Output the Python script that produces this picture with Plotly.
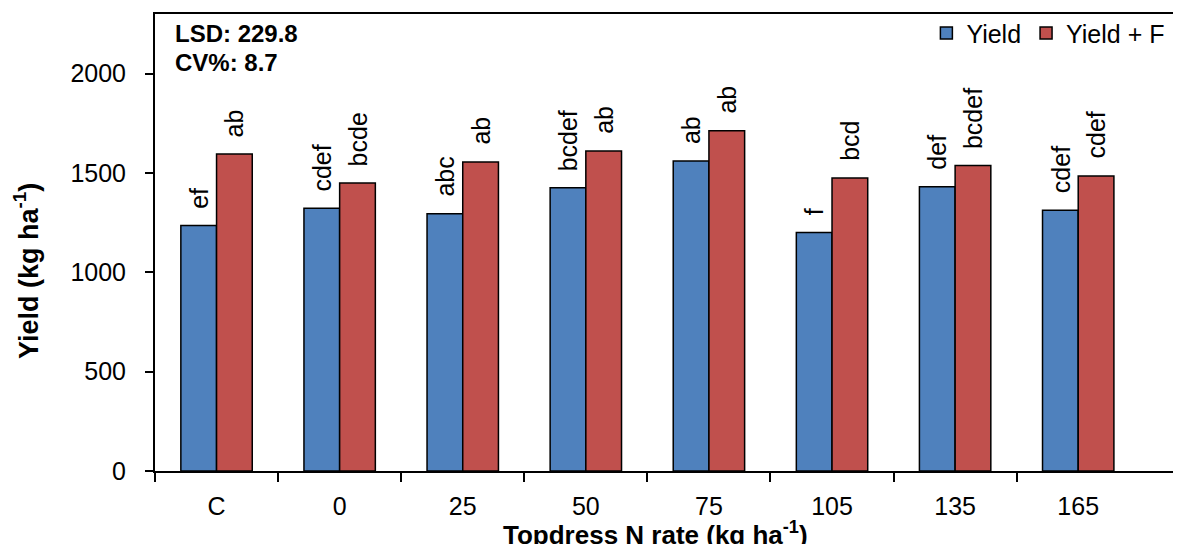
import plotly.graph_objects as go

categories = ["C", "0", "25", "50", "75", "105", "135", "165"]
yield_vals = [1235, 1322, 1295, 1425, 1560, 1200, 1430, 1312]
yieldf_vals = [1595, 1450, 1555, 1610, 1712, 1475, 1537, 1485]
yield_letters = ["ef", "cdef", "abc", "bcdef", "ab", "f", "def", "cdef"]
yieldf_letters = ["ab", "bcde", "ab", "ab", "ab", "bcd", "bcdef", "cdef"]
y_ticks = [0, 500, 1000, 1500, 2000]

FONT = "Arial, Liberation Sans, sans-serif"
BLUE = "#4F81BD"
RED = "#C0504D"

idx = list(range(len(categories)))
boundaries = [i - 0.5 for i in idx]

fig = go.Figure()
fig.add_trace(go.Bar(x=idx, y=yield_vals, name="Yield",
                     marker=dict(color=BLUE, line=dict(color="black", width=1.5))))
fig.add_trace(go.Bar(x=idx, y=yieldf_vals, name="Yield + F",
                     marker=dict(color=RED, line=dict(color="black", width=1.5))))

bargap = 0.42
half = (1 - bargap) / 4
annotations = []
for i in idx:
    for val, txt, off in ((yield_vals[i], yield_letters[i], -half),
                          (yieldf_vals[i], yieldf_letters[i], half)):
        annotations.append(dict(x=i + off, y=val, xref="x", yref="y", text=txt,
                                textangle=-90, showarrow=False, yanchor="bottom",
                                xanchor="center", yshift=15,
                                font=dict(family=FONT, size=25, color="black")))

annotations += [
    dict(x=0.017, y=0.958, xref="paper", yref="paper", text="<b>LSD: 229.8</b>",
         showarrow=False, xanchor="left", yanchor="middle",
         font=dict(family=FONT, size=24, color="black")),
    dict(x=0.017, y=0.893, xref="paper", yref="paper", text="<b>CV%: 8.7</b>",
         showarrow=False, xanchor="left", yanchor="middle",
         font=dict(family=FONT, size=24, color="black")),
    dict(x=0.484, y=-0.136, xref="paper", yref="paper",
         text="<b>Topdress N rate (kg ha<sup>-1</sup>)</b>",
         showarrow=False, xanchor="center", yanchor="middle",
         font=dict(family=FONT, size=26, color="black")),
    dict(x=-0.124, y=0.437, xref="paper", yref="paper",
         text="<b>Yield (kg ha<sup>-1</sup>)</b>", textangle=-90,
         showarrow=False, xanchor="center", yanchor="middle",
         font=dict(family=FONT, size=27, color="black")),
]

fig.update_layout(
    width=1181, height=544,
    margin=dict(l=147, r=0, t=6, b=81),
    paper_bgcolor="white", plot_bgcolor="white",
    barmode="group", bargap=bargap, bargroupgap=0,
    font=dict(family=FONT, size=25, color="black"),
    showlegend=True,
    legend=dict(orientation="h", x=0.982, xanchor="right", y=0.958, yanchor="middle",
                font=dict(family=FONT, size=25, color="black"),
                bgcolor="rgba(0,0,0,0)", itemwidth=30, tracegroupgap=0),
    annotations=annotations,
)
fig.update_xaxes(type="linear", range=[-0.5, 7.9], showline=True, linecolor="black",
                 linewidth=2, mirror=True, tickmode="array", tickvals=idx,
                 ticktext=categories, ticks="", showgrid=False, zeroline=False,
                 ticklabelstandoff=12,
                 minor=dict(tickmode="array", tickvals=boundaries, ticks="outside",
                            ticklen=9, tickwidth=2, tickcolor="black", showgrid=False),
                 tickfont=dict(family=FONT, size=25, color="black"))
fig.update_yaxes(range=[0, 2300], tickvals=y_ticks, showline=True, linecolor="black",
                 linewidth=2, ticks="outside", ticklen=8, tickwidth=2, tickcolor="black",
                 showgrid=False, zeroline=False, ticklabelstandoff=14,
                 tickfont=dict(family=FONT, size=25, color="black"))

fig.write_html("out.html")
